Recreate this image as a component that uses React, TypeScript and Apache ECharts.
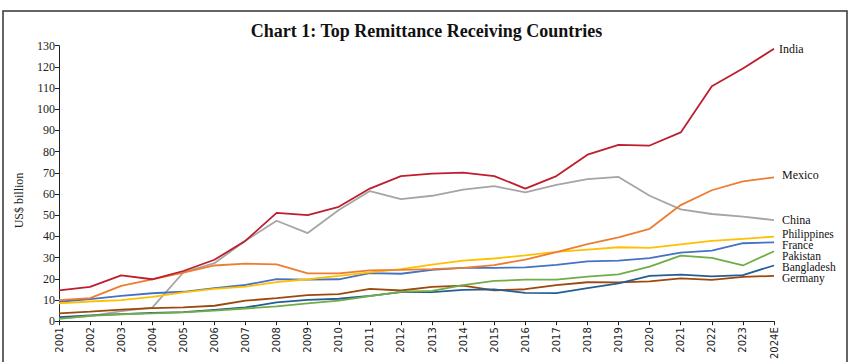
import React, { useEffect, useRef } from "react";
import * as echarts from "echarts";

const years = ["2001","2002","2003","2004","2005","2006","2007","2008","2009","2010","2011","2012","2013","2014","2015","2016","2017","2018","2019","2020","2021","2022","2023","2024E"];
const yTicks = { min: 0, max: 130, interval: 10 };

const india = [14.6, 16.2, 21.6, 19.8, 23.7, 29.0, 38.0, 51.1, 50.1, 54.0, 62.6, 68.5, 69.6, 70.1, 68.5, 62.6, 68.5, 78.6, 83.2, 82.9, 89.1, 110.9, 119.2, 128.6];
const china = [1.4, 2.4, 4.8, 6.4, 23.0, 27.4, 38.0, 47.4, 41.6, 52.5, 61.4, 57.6, 59.2, 62.1, 63.7, 60.8, 64.3, 67.0, 68.1, 59.2, 52.8, 50.6, 49.4, 47.7];
const mexico = [10.0, 10.9, 16.7, 19.8, 22.9, 26.3, 27.2, 26.8, 22.6, 22.6, 24.0, 24.2, 24.6, 25.2, 26.5, 29.1, 32.6, 36.4, 39.6, 43.6, 54.8, 61.8, 66.0, 67.9];
const philippines = [8.4, 9.3, 10.0, 11.5, 13.6, 15.3, 16.3, 18.5, 19.8, 21.4, 23.1, 24.6, 26.7, 28.6, 29.6, 31.1, 32.7, 33.8, 34.9, 34.6, 36.3, 37.9, 38.9, 39.9];
const france = [9.2, 10.4, 12.0, 13.2, 13.9, 15.6, 17.1, 19.9, 19.6, 19.8, 22.7, 22.4, 24.2, 25.2, 25.2, 25.4, 26.6, 28.2, 28.6, 29.8, 32.4, 33.3, 36.8, 37.2];
const pakistan = [1.1, 2.5, 3.3, 3.7, 4.2, 5.0, 6.0, 7.0, 8.4, 9.7, 11.8, 13.9, 14.3, 17.0, 19.0, 19.6, 19.6, 21.0, 22.1, 25.8, 31.0, 29.9, 26.3, 33.0];
const bangladesh = [1.9, 2.8, 3.4, 3.9, 4.3, 5.4, 6.5, 8.9, 10.1, 10.6, 12.0, 13.7, 13.7, 14.8, 15.0, 13.4, 13.3, 15.6, 17.9, 21.4, 22.0, 21.2, 21.8, 26.3];
const germany = [3.7, 4.5, 5.5, 6.2, 6.5, 7.3, 9.7, 10.9, 12.3, 12.8, 15.3, 14.5, 16.2, 16.8, 14.6, 15.1, 17.0, 18.4, 18.3, 18.8, 20.2, 19.5, 20.9, 21.4];

const seriesDefs = [
  { name: "China", data: china, color: "#A5A5A5", dy: 0, dist: 8, fs: 12 },
  { name: "Germany", data: germany, color: "#9E480E", dy: 2.5, dist: 8, fs: 11.5 },
  { name: "Bangladesh", data: bangladesh, color: "#255E91", dy: 1.5, dist: 8, fs: 11.5 },
  { name: "Pakistan", data: pakistan, color: "#70AD47", dy: 5, dist: 8, fs: 11.5 },
  { name: "France", data: france, color: "#4472C4", dy: 3, dist: 8, fs: 11.5 },
  { name: "Philippines", data: philippines, color: "#FFC000", dy: -3, dist: 8, fs: 11.5 },
  { name: "Mexico", data: mexico, color: "#ED7D31", dy: -2, dist: 8, fs: 12 },
  { name: "India", data: india, color: "#BE1E2D", dy: 0, dist: 5, fs: 12 },
];

const SERIF = "'Liberation Serif', 'DejaVu Serif', serif";

export default function App() {
  const ref = useRef<HTMLDivElement>(null);
  useEffect(() => {
    document.body.style.margin = "0";
    const chart = echarts.init(ref.current!, null, { renderer: "svg" });
    chart.setOption({
      animation: false,
      backgroundColor: "#ffffff",
      title: {
        text: "Chart 1: Top Remittance Receiving Countries",
        left: "center",
        top: 17,
        textStyle: { fontFamily: SERIF, fontWeight: "bold", fontSize: 18, color: "#111" },
      },
      graphic: [
        {
          type: "rect",
          shape: { x: 3, y: 11, width: 844, height: 370 },
          style: { fill: "none", stroke: "#333", lineWidth: 1.5 },
          silent: true,
        },
      ],
      grid: { left: 59, right: 79, top: 45.7, bottom: 38 },
      xAxis: {
        type: "category",
        data: years,
        boundaryGap: false,
        axisLine: { lineStyle: { color: "#222", width: 1 } },
        axisTick: { alignWithLabel: true, length: 4, lineStyle: { color: "#222" } },
        axisLabel: { rotate: 90, fontFamily: "'DejaVu Sans', sans-serif", fontSize: 10, color: "#222", margin: 6, interval: 0 },
        splitLine: { show: false },
      },
      yAxis: {
        type: "value",
        min: yTicks.min,
        max: yTicks.max,
        interval: yTicks.interval,
        name: "US$ billion",
        nameLocation: "middle",
        nameGap: 34,
        nameTextStyle: { fontFamily: SERIF, fontSize: 12, color: "#222", padding: [0, 34, 0, 0] },
        axisLine: { show: true, lineStyle: { color: "#222", width: 1 } },
        axisTick: { show: true, length: 4, lineStyle: { color: "#222" } },
        axisLabel: { fontFamily: SERIF, fontSize: 12, color: "#222", margin: 4 },
        splitLine: { show: false },
      },
      series: seriesDefs.map((s) => ({
        name: s.name,
        type: "line",
        data: s.data,
        symbol: "none",
        lineStyle: { color: s.color, width: 1.8 },
        itemStyle: { color: s.color },
        endLabel: {
          show: true,
          formatter: s.name,
          distance: s.dist,
          offset: [0, s.dy],
          fontFamily: SERIF,
          fontSize: s.fs,
          lineHeight: 10,
          color: "#111",
        },
      })),
    });
    return () => chart.dispose();
  }, []);
  return <div ref={ref} style={{ width: 853, height: 362 }} />;
}
